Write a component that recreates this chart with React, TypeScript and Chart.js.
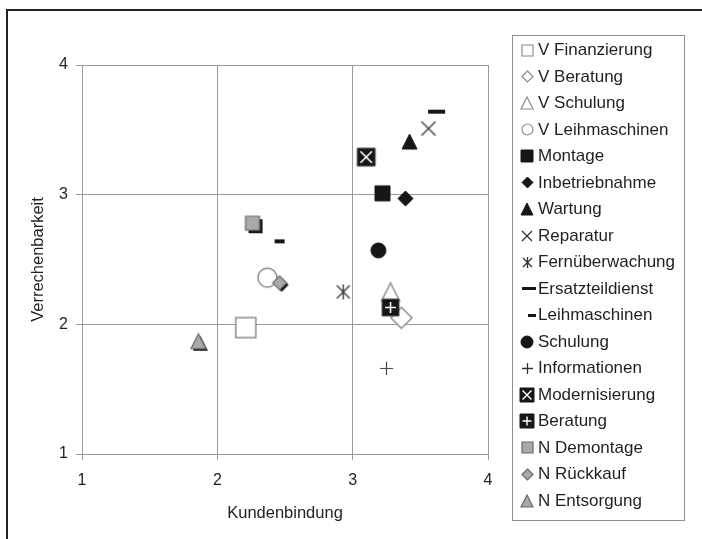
import React, { useEffect, useRef } from "react";
import { Chart, registerables } from "chart.js";

Chart.register(...registerables);

// ---- data ----
const seriesLabels = [
  "V Finanzierung",
  "V Beratung",
  "V Schulung",
  "V Leihmaschinen",
  "Montage",
  "Inbetriebnahme",
  "Wartung",
  "Reparatur",
  "Fernüberwachung",
  "Ersatzteildienst",
  "Leihmaschinen",
  "Schulung",
  "Informationen",
  "Modernisierung",
  "Beratung",
  "N Demontage",
  "N Rückkauf",
  "N Entsorgung",
];
const kundenbindung = [2.21, 3.36, 3.28, 2.37, 3.22, 3.39, 3.42, 3.56, 2.93, 3.62, 2.46, 3.19, 3.25, 3.1, 3.28, 2.26, 2.46, 1.86];
const verrechenbarkeit = [1.975, 2.05, 2.25, 2.36, 3.01, 2.97, 3.41, 3.51, 2.25, 3.64, 2.64, 2.57, 1.66, 3.29, 2.13, 2.78, 2.32, 1.87];
const axisTicks = [1, 2, 3, 4];
const xTitle = "Kundenbindung";
const yTitle = "Verrechenbarkeit";

// ---- marker styles ----
type MarkerSpec = {
  shape: string;
  size: number;
  w?: number;
  h?: number;
  fill?: string;
  stroke?: string;
  lw?: number;
  shadow?: number;
  dx?: number;
};

const WHITE = "#ffffff";
const EDGE = "#8c8c8c";
const BLACK = "#161616";
const GRAY = "#a9a9a9";
const GEDGE = "#6a6a6a";

const plotMarkers: MarkerSpec[] = [
  { shape: "rect", size: 20, fill: WHITE, stroke: EDGE, lw: 1.5 },
  { shape: "diamond", size: 21, fill: WHITE, stroke: EDGE, lw: 1.5 },
  { shape: "triangle", size: 18, fill: WHITE, stroke: EDGE, lw: 1.5 },
  { shape: "circle", size: 19, fill: WHITE, stroke: EDGE, lw: 1.5 },
  { shape: "rect", size: 15, fill: BLACK, stroke: BLACK, lw: 1 },
  { shape: "diamond", size: 15, fill: BLACK, stroke: BLACK, lw: 1 },
  { shape: "triangle", size: 15, fill: BLACK, stroke: BLACK, lw: 1 },
  { shape: "x", size: 14, stroke: "#3a3a3a", lw: 1.4 },
  { shape: "star", size: 13, stroke: "#3a3a3a", lw: 1.4 },
  { shape: "dash", size: 17, w: 17, h: 4, fill: BLACK },
  { shape: "dash", size: 10, w: 10, h: 4, fill: BLACK },
  { shape: "circle", size: 15, fill: BLACK, stroke: BLACK, lw: 1 },
  { shape: "plus", size: 13, stroke: "#444444", lw: 1.2 },
  { shape: "rectX", size: 18, fill: BLACK, stroke: "#555555", lw: 1 },
  { shape: "rectPlus", size: 17, fill: BLACK, stroke: "#555555", lw: 1 },
  { shape: "rect", size: 14, fill: GRAY, stroke: GEDGE, lw: 1.2, shadow: 3 },
  { shape: "diamond", size: 14, fill: GRAY, stroke: GEDGE, lw: 1.2, shadow: 2 },
  { shape: "triangle", size: 15, fill: GRAY, stroke: GEDGE, lw: 1.2, shadow: 2 },
];

const legendMarkers: MarkerSpec[] = [
  { shape: "rect", size: 11, fill: WHITE, stroke: EDGE, lw: 1.2 },
  { shape: "diamond", size: 11, fill: WHITE, stroke: EDGE, lw: 1.2 },
  { shape: "triangle", size: 12, fill: WHITE, stroke: EDGE, lw: 1.2 },
  { shape: "circle", size: 11, fill: WHITE, stroke: EDGE, lw: 1.2 },
  { shape: "rect", size: 12, fill: BLACK, stroke: BLACK, lw: 1 },
  { shape: "diamond", size: 11, fill: BLACK, stroke: BLACK, lw: 1 },
  { shape: "triangle", size: 12, fill: BLACK, stroke: BLACK, lw: 1 },
  { shape: "x", size: 10, stroke: "#333333", lw: 1.3 },
  { shape: "star", size: 9, stroke: "#333333", lw: 1.3 },
  { shape: "dash", size: 14, w: 14, h: 3, fill: BLACK, dx: 2 },
  { shape: "dash", size: 8, w: 8, h: 3, fill: BLACK, dx: 5 },
  { shape: "circle", size: 12, fill: BLACK, stroke: BLACK, lw: 1 },
  { shape: "plus", size: 11, stroke: "#333333", lw: 1.3 },
  { shape: "rectX", size: 14, fill: BLACK, stroke: BLACK, lw: 1 },
  { shape: "rectPlus", size: 14, fill: BLACK, stroke: BLACK, lw: 1 },
  { shape: "rect", size: 11, fill: GRAY, stroke: GEDGE, lw: 1.2 },
  { shape: "diamond", size: 11, fill: GRAY, stroke: GEDGE, lw: 1.2 },
  { shape: "triangle", size: 12, fill: GRAY, stroke: GEDGE, lw: 1.2 },
];

const FONT_FAMILY = "'Liberation Sans', Arial, Helvetica, sans-serif";
const TEXT = "#1f1f1f";
const GRID = "#9a9a9a";

function tracePath(ctx: CanvasRenderingContext2D, m: MarkerSpec, cx: number, cy: number) {
  const w = m.w ?? m.size;
  const h = m.h ?? m.size;
  ctx.beginPath();
  switch (m.shape) {
    case "rect":
    case "rectX":
    case "rectPlus":
    case "dash":
      ctx.rect(cx - w / 2, cy - h / 2, w, h);
      break;
    case "diamond":
      ctx.moveTo(cx, cy - h / 2);
      ctx.lineTo(cx + w / 2, cy);
      ctx.lineTo(cx, cy + h / 2);
      ctx.lineTo(cx - w / 2, cy);
      ctx.closePath();
      break;
    case "triangle":
      ctx.moveTo(cx, cy - h / 2);
      ctx.lineTo(cx + w / 2, cy + h / 2);
      ctx.lineTo(cx - w / 2, cy + h / 2);
      ctx.closePath();
      break;
    case "circle":
      ctx.arc(cx, cy, w / 2, 0, Math.PI * 2);
      break;
    case "x":
      ctx.moveTo(cx - w / 2, cy - h / 2);
      ctx.lineTo(cx + w / 2, cy + h / 2);
      ctx.moveTo(cx + w / 2, cy - h / 2);
      ctx.lineTo(cx - w / 2, cy + h / 2);
      break;
    case "star":
      ctx.moveTo(cx - w / 2, cy - h / 2);
      ctx.lineTo(cx + w / 2, cy + h / 2);
      ctx.moveTo(cx + w / 2, cy - h / 2);
      ctx.lineTo(cx - w / 2, cy + h / 2);
      ctx.moveTo(cx, cy - h / 2 - 1);
      ctx.lineTo(cx, cy + h / 2 + 1);
      break;
    case "plus":
      ctx.moveTo(cx - w / 2, cy);
      ctx.lineTo(cx + w / 2, cy);
      ctx.moveTo(cx, cy - h / 2);
      ctx.lineTo(cx, cy + h / 2);
      break;
  }
}

function makeMarker(m: MarkerSpec): HTMLCanvasElement {
  const w = m.w ?? m.size;
  const h = m.h ?? m.size;
  const lw = m.lw ?? 1;
  const sh = m.shadow ?? 0;
  const pad = Math.ceil(lw) + 1 + sh;
  const c = document.createElement("canvas");
  c.width = Math.ceil(w) + pad * 2;
  c.height = Math.ceil(h) + pad * 2;
  const ctx = c.getContext("2d")!;
  const cx = c.width / 2;
  const cy = c.height / 2;
  ctx.lineCap = "butt";
  if (sh) {
    tracePath(ctx, m, cx + sh, cy + sh);
    ctx.fillStyle = "#141414";
    ctx.fill();
  }
  tracePath(ctx, m, cx, cy);
  if (m.fill) {
    ctx.fillStyle = m.fill;
    ctx.fill();
  }
  if (m.stroke) {
    ctx.strokeStyle = m.stroke;
    ctx.lineWidth = lw;
    ctx.stroke();
  }
  if (m.shape === "rectX" || m.shape === "rectPlus") {
    ctx.strokeStyle = "#ffffff";
    ctx.lineWidth = Math.max(1.4, m.size / 11);
    ctx.beginPath();
    const a = m.size * 0.32;
    if (m.shape === "rectX") {
      ctx.moveTo(cx - a, cy - a);
      ctx.lineTo(cx + a, cy + a);
      ctx.moveTo(cx + a, cy - a);
      ctx.lineTo(cx - a, cy + a);
    } else {
      ctx.moveTo(cx - a, cy);
      ctx.lineTo(cx + a, cy);
      ctx.moveTo(cx, cy - a);
      ctx.lineTo(cx, cy + a);
    }
    ctx.stroke();
  }
  return c;
}

export default function App() {
  const canvasRef = useRef<HTMLCanvasElement | null>(null);

  useEffect(() => {
    const canvas = canvasRef.current;
    if (!canvas) return;

    const plotImgs = plotMarkers.map(makeMarker);
    const legendImgs = legendMarkers.map(makeMarker);
    const n = seriesLabels.length;

    const datasets = seriesLabels.map((label, i) => ({
      label,
      data: [{ x: kundenbindung[i], y: verrechenbarkeit[i] }],
      pointStyle: plotImgs[i] as any,
      pointRadius: 10,
      pointHoverRadius: 10,
      order: n - i,
    }));

    const boxLegend = {
      id: "boxLegend",
      afterDraw(chart: any) {
        const ctx: CanvasRenderingContext2D = chart.ctx;
        ctx.save();
        ctx.strokeStyle = "#8f8f8f";
        ctx.lineWidth = 1;
        ctx.strokeRect(512.5, 35.5, 172, 485);
        ctx.font = `17px ${FONT_FAMILY}`;
        ctx.fillStyle = TEXT;
        ctx.textBaseline = "middle";
        ctx.textAlign = "left";
        chart.data.datasets.forEach((ds: any, i: number) => {
          const y = 50 + 26.5 * i;
          const img = legendImgs[i];
          const mx = 527 + (legendMarkers[i].dx ?? 0);
          ctx.drawImage(img, Math.round(mx - img.width / 2), Math.round(y - img.height / 2));
          ctx.fillText(ds.label, 538, y + 0.5);
        });
        ctx.restore();
      },
    };

    const tickFont = { family: FONT_FAMILY, size: 16 };
    const titleFont = { family: FONT_FAMILY, size: 16.5 };

    const chart = new Chart(canvas, {
      type: "scatter",
      data: { datasets } as any,
      options: {
        animation: false,
        responsive: false,
        devicePixelRatio: 1,
        layout: { padding: { top: 65, right: 214, left: 0, bottom: 0 } },
        plugins: {
          legend: { display: false },
          tooltip: { enabled: false },
        },
        scales: {
          x: {
            type: "linear",
            position: "bottom",
            min: axisTicks[0],
            max: axisTicks[axisTicks.length - 1],
            afterFit: (scale: any) => {
              scale.height = 85;
            },
            ticks: { stepSize: 1, padding: 11, font: tickFont, color: TEXT },
            grid: { color: GRID, lineWidth: 1, tickLength: 6 },
            border: { color: GRID, width: 1 },
            title: {
              display: true,
              text: xTitle,
              font: titleFont,
              color: TEXT,
              padding: { top: 0, bottom: 16 },
            },
          },
          y: {
            type: "linear",
            min: axisTicks[0],
            max: axisTicks[axisTicks.length - 1],
            afterFit: (scale: any) => {
              scale.width = 82;
            },
            ticks: { stepSize: 1, padding: 8, font: tickFont, color: TEXT },
            grid: { color: GRID, lineWidth: 1, tickLength: 6 },
            border: { color: GRID, width: 1 },
            title: {
              display: true,
              text: yTitle,
              font: titleFont,
              color: TEXT,
              padding: { top: 29, bottom: 0 },
            },
          },
        },
      } as any,
      plugins: [boxLegend],
    });

    return () => {
      chart.destroy();
    };
  }, []);

  return (
    <div
      style={{
        position: "fixed",
        left: 0,
        top: 0,
        width: 702,
        height: 539,
        background: "#ffffff",
        overflow: "hidden",
      }}
    >
      <canvas ref={canvasRef} width={702} height={539} style={{ display: "block" }} />
      <div
        style={{
          position: "absolute",
          left: 6,
          top: 9,
          width: 700,
          height: 540,
          borderLeft: "2px solid #222",
          borderTop: "2px solid #222",
          pointerEvents: "none",
        }}
      />
    </div>
  );
}
